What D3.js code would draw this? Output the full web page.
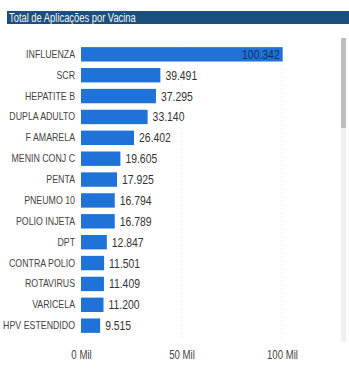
<!DOCTYPE html>
<html><head><meta charset="utf-8">
<script src="https://cdn.jsdelivr.net/npm/d3@7"></script>
<style>
html,body{margin:0;padding:0;background:#fff;}
svg{display:block;font-family:"Liberation Sans",Arial,sans-serif;}
</style></head><body>
<svg id="c" width="349" height="370"></svg>
<script>
const categories = ["INFLUENZA","SCR","HEPATITE B","DUPLA ADULTO","F AMARELA","MENIN CONJ C","PENTA","PNEUMO 10","POLIO INJETA","DPT","CONTRA POLIO","ROTAVIRUS","VARICELA","HPV ESTENDIDO"];
const values = [100342,39491,37295,33140,26402,19605,17925,16794,16789,12847,11501,11409,11200,9515];
const valueLabels = ["100.342","39.491","37.295","33.140","26.402","19.605","17.925","16.794","16.789","12.847","11.501","11.409","11.200","9.515"];
const tickValues = [0,50000,100000];
const tickLabels = ["0 Mil","50 Mil","100 Mil"];
const title = "Total de Aplicações por Vacina";

function condense(sel, k){
  sel.each(function(){
    const w = this.getComputedTextLength();
    d3.select(this).attr("textLength", w*k).attr("lengthAdjust","spacingAndGlyphs");
  });
}

const svg = d3.select("#c");
// title bar
svg.append("rect").attr("x",7).attr("y",11).attr("width",342).attr("height",13).attr("fill","#1d4f7d");
svg.append("text").attr("x",9).attr("y",21.5).attr("fill","#f2f4f8").attr("font-size",12).text(title)
  .call(condense,0.78);

// scrollbar
svg.append("rect").attr("x",341).attr("y",38).attr("width",5).attr("height",304).attr("fill","#f0f0f0");
svg.append("rect").attr("x",341).attr("y",38).attr("width",5).attr("height",90).attr("rx",1).attr("fill","#bdbdbd");

const x = d3.scaleLinear().domain([0,100000]).range([81,282]);
const y = d3.scaleBand().domain(categories).range([44,336]).paddingInner(0.31).paddingOuter(0.15);

// gridlines
svg.append("g").selectAll("line").data(tickValues.slice(1)).join("line")
  .attr("x1",d=>x(d)).attr("x2",d=>x(d)).attr("y1",44).attr("y2",338)
  .attr("stroke","#e6e6e6").attr("stroke-width",1).attr("stroke-dasharray","1,3");

// bars
svg.append("g").selectAll("rect").data(values).join("rect")
  .attr("x",x(0)).attr("y",(d,i)=>y(categories[i]))
  .attr("width",d=>x(d)-x(0)).attr("height",y.bandwidth())
  .attr("fill","#1f72d8");

// value labels
svg.append("g").selectAll("text").data(values).join("text")
  .attr("x",(d,i)=> i===0 ? x(d)-3 : x(d)+5)
  .attr("y",(d,i)=>y(categories[i])+y.bandwidth()/2+4.5)
  .attr("text-anchor",(d,i)=> i===0 ? "end" : "start")
  .attr("font-size",13).attr("fill",(d,i)=> i===0 ? "#13305a" : "#333")
  .text((d,i)=>valueLabels[i])
  .call(condense,0.8);

// category axis labels
const yAxis = d3.axisLeft(y).tickSize(0).tickPadding(6);
const gy = svg.append("g").attr("transform",`translate(${x(0)},0)`).call(yAxis);
gy.select(".domain").remove();
gy.selectAll("text").attr("font-size",11).attr("fill","#444")
  .attr("font-family","'Liberation Sans',Arial,sans-serif")
  .call(condense,0.8);

// x axis
const xAxis = d3.axisBottom(x).tickValues(tickValues).tickFormat((d,i)=>tickLabels[i]).tickSize(0).tickPadding(0);
const gx = svg.append("g").attr("transform","translate(0,350)").call(xAxis);
gx.select(".domain").remove();
gx.selectAll("text").attr("font-size",12).attr("fill","#444")
  .attr("font-family","'Liberation Sans',Arial,sans-serif")
  .call(condense,0.8);
</script>
</body></html>
